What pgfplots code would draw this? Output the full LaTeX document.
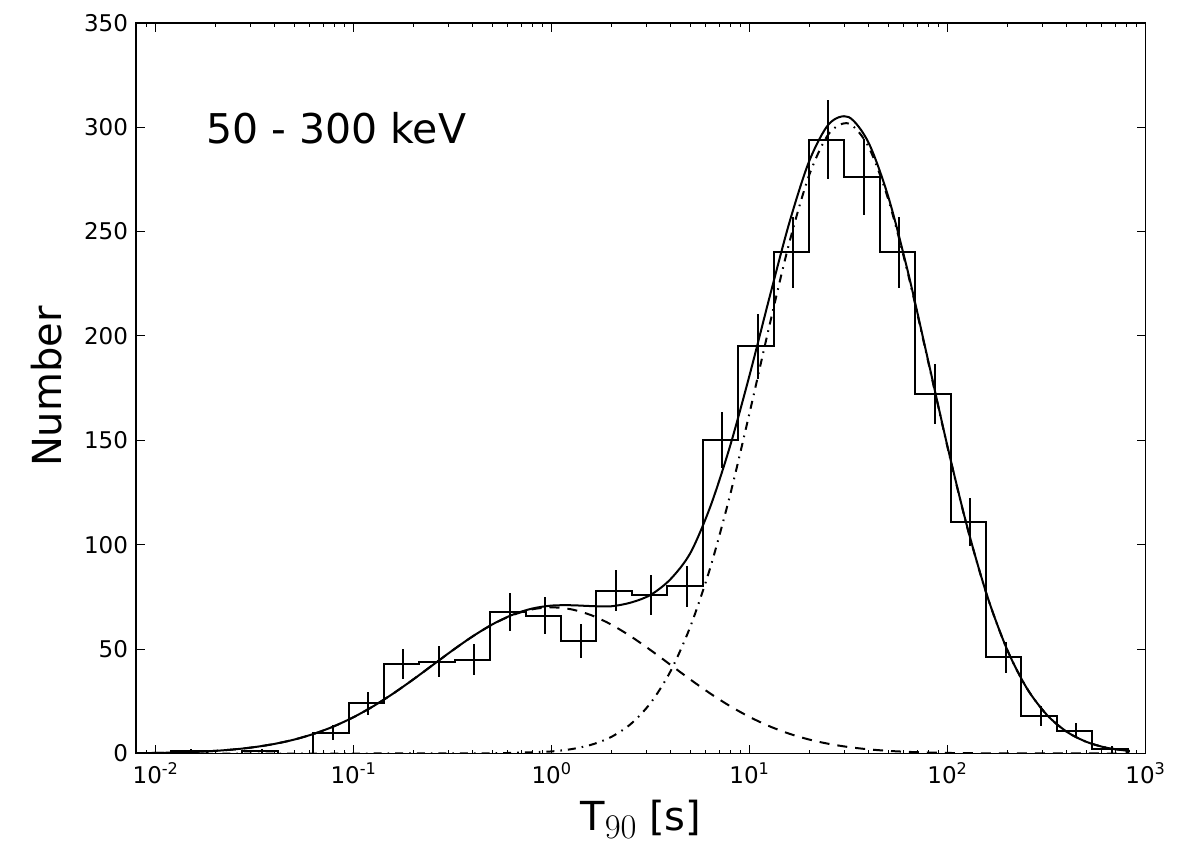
\documentclass[border=0pt]{standalone}
\usepackage[no-math]{fontspec}
\setmainfont{DejaVu Sans}
\usepackage{pgfplots}
\usepackage{pgfplotstable}
\pgfplotsset{compat=1.18}

% histogram: left bin edges and counts (last row repeats last count at right edge)
\pgfplotstableread{
x y
0.0079433 0
0.0079433 0
0.011992 1
0.018104 0
0.027333 1
0.041267 0
0.062301 10
0.094059 24
0.14200 43
0.21439 44
0.32367 45
0.48865 68
0.73773 66
1.1138 54
1.6816 78
2.5387 76
3.8327 80
5.7863 150
8.7358 195
13.189 240
19.911 294
30.061 276
45.384 240
68.517 172
103.44 111
156.17 46
235.78 18
355.96 11
537.41 2
811.34 2
811.34 0
}\histdata

\pgfplotstableread{
x y e
0.015048 1 1.1
0.0343 1 1.1
0.07818 10 3.5
0.11803 24 5.4
0.1782 43 7.2
0.26903 44 7.3
0.40616 45 7.4
0.61319 68 9.1
0.92577 66 8.9
1.3977 54 8.1
2.1102 78 9.7
3.1857 76 9.6
4.8095 80 9.8
7.2611 150 13.5
10.962 195 15.4
16.55 240 17.0
24.986 294 18.9
37.723 276 18.3
56.951 240 17.0
85.979 172 14.4
129.81 111 11.6
195.98 46 7.5
295.87 18 4.7
446.69 11 3.6
674.38 2 1.6
}\errdata

\pgfplotstableread{
x y
0.0079433 0.15
0.01 0.27
0.012589 0.47
0.015849 0.78
0.019953 1.26
0.025119 2.00
0.031623 3.08
0.039811 4.60
0.050119 6.69
0.063096 9.47
0.079433 13.04
0.1 17.46
0.12589 22.73
0.15849 28.78
0.19953 35.44
0.25119 42.46
0.31623 49.47
0.39811 56.07
0.50119 61.84
0.63096 66.38
0.79433 69.40
1 70.85
1.2589 71.0
1.5849 70.6
1.9953 70.5
2.5119 72.3
3.1623 76.0
3.9811 83.5
5.0119 96.0
6.3096 118.0
7.9433 147.0
10 181.5
12.589 218.5
15.849 254.2
19.953 283.6
25.119 301.5
31.623 304.8
39.811 292.6
50.119 266.6
63.096 230.3
79.433 188.7
100 146.6
125.89 108.0
158.49 75.3
199.53 49.8
251.19 31.2
316.23 18.6
398.11 10.5
501.19 5.6
630.96 2.8
794.33 1.4
831.8 1.2
}\totaldata

\pgfplotstableread{
x y
0.0079433 0.15
0.01 0.27
0.012589 0.47
0.015849 0.78
0.019953 1.26
0.025119 2.00
0.031623 3.08
0.039811 4.60
0.050119 6.69
0.063096 9.47
0.079433 13.04
0.1 17.46
0.12589 22.73
0.15849 28.78
0.19953 35.44
0.25119 42.46
0.31623 49.46
0.39811 56.05
0.50119 61.78
0.63096 66.22
0.79433 69.03
1 70.00
1.2589 69.03
1.5849 66.22
1.9953 61.78
2.5119 56.05
3.1623 49.46
3.9811 42.46
5.0119 35.44
6.3096 28.78
7.9433 22.73
10 17.46
12.589 13.04
15.849 9.47
19.953 6.69
25.119 4.60
31.623 3.08
39.811 2.00
50.119 1.26
63.096 0.78
79.433 0.47
100 0.27
125.89 0.15
158.49 0.08
199.53 0.04
316.23 0.01
831.8 0
}\shortdata

\pgfplotstableread{
x y
0.0079433 0
0.031623 0
0.1 0
0.31623 0.02
0.39811 0.05
0.50119 0.12
0.63096 0.3
0.79433 0.6
1 1.0
1.2589 2.1
1.5849 4.2
1.9953 7.9
2.5119 14.2
3.1623 24.3
3.9811 39.4
5.0119 60.8
6.3096 88.8
7.9433 123.5
10 163.5
12.589 205.1
15.849 244.7
19.953 276.9
25.119 296.9
31.623 301.7
39.811 290.6
50.119 265.3
63.096 229.5
79.433 188.2
100 146.3
125.89 107.8
158.49 75.2
199.53 49.8
251.19 31.2
316.23 18.6
398.11 10.46
501.19 5.59
630.96 2.83
794.33 1.36
831.8 1.16
}\longdata

\begin{document}
\begin{tikzpicture}
\path[use as bounding box] (0,0) rectangle (598pt,432pt);
\begin{axis}[
  at={(68pt,55.25pt)}, anchor=south west,
  scale only axis, width=504.85pt, height=365.4pt,
  xmode=log, xmin=0.0079433, xmax=1000,
  ymin=0, ymax=350,
  xtick={0.01,0.1,1,10,100,1000},
  xticklabels={10\textsuperscript{-2},10\textsuperscript{-1},10\textsuperscript{0},10\textsuperscript{1},10\textsuperscript{2},10\textsuperscript{3}},
  minor xtick={0.008,0.009,0.02,0.03,0.04,0.05,0.06,0.07,0.08,0.09,0.2,0.3,0.4,0.5,0.6,0.7,0.8,0.9,2,3,4,5,6,7,8,9,20,30,40,50,60,70,80,90,200,300,400,500,600,700,800,900},
  ytick={0,50,100,150,200,250,300,350},
  minor ytick={},
  tick align=inside,
  major tick length=4.5pt, minor tick length=2pt,
  every tick/.style={black, line width=0.5pt},
  axis line style={line width=0.8pt},
  /pgf/number format/assume math mode=true,
  tick label style={font=\fontsize{11.5}{13}\selectfont},
  xticklabel style={yshift=-1pt},
  yticklabel style={xshift=-0.5pt},
  xlabel={T\raisebox{-3.8pt}{\fontsize{16}{16}\selectfont$\mathrm{90}$}\ [s]},
  ylabel={Number},
  label style={font=\fontsize{20}{24}\selectfont},
  xlabel style={at={(rel axis cs:0.5,-0.1056)}, anchor=base},
  ylabel style={at={(rel axis cs:-0.0736,0.502)}, anchor=base, rotate=0},
  clip=true,
]
\addplot[black, line width=1pt, const plot mark left, line join=miter] table[x=x,y=y] {\histdata};
\addplot[draw=none, mark=none, forget plot,
  error bars/.cd, y dir=both, y explicit, error mark=none,
  error bar style={draw=black, solid, line width=1pt}]
  table[x=x, y=y, y error=e] {\errdata};
\addplot[black, line width=1pt, smooth] table[x=x,y=y] {\totaldata};
\addplot[black, line width=1pt, smooth, dash pattern=on 5pt off 4pt] table[x=x,y=y] {\shortdata};
\addplot[black, line width=1pt, smooth, dash pattern=on 4pt off 3pt on 0.8pt off 3pt] table[x=x,y=y] {\longdata};
\node[anchor=base west, font=\fontsize{20.5}{24}\selectfont] at (rel axis cs:0.0627,0.835) {50 - 300 keV};
\end{axis}
\end{tikzpicture}
\end{document}
